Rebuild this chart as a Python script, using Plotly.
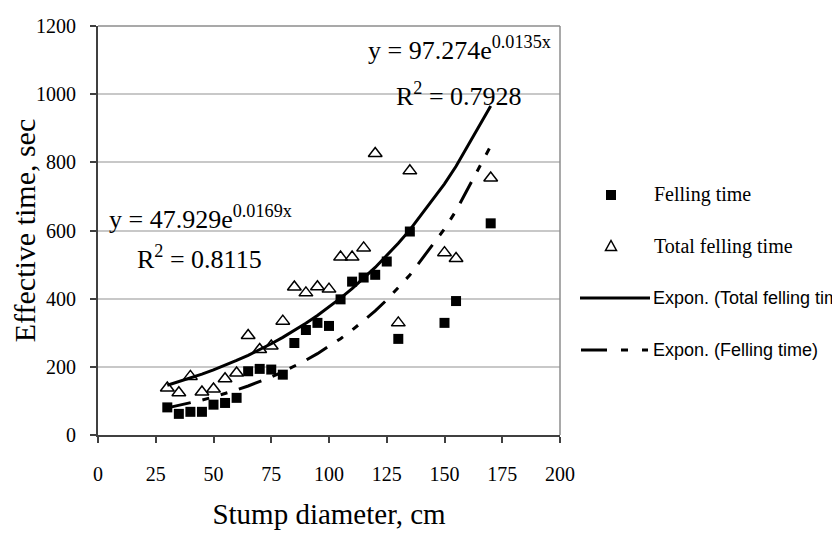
import numpy as np
import plotly.graph_objects as go

# ---- data ----
felling_x = [30, 35, 40, 45, 50, 55, 60, 65, 70, 75, 80, 85, 90, 95, 100, 105, 110, 115, 120, 125, 130, 135, 150, 155, 170]
felling_y = [81, 62, 68, 68, 89, 94, 109, 187, 194, 192, 177, 270, 308, 329, 320, 398, 450, 462, 470, 509, 282, 597, 329, 393, 621]

total_x = [30, 35, 40, 45, 50, 55, 60, 65, 70, 75, 80, 85, 90, 95, 100, 105, 110, 115, 120, 130, 135, 150, 155, 170]
total_y = [138, 124, 172, 126, 135, 165, 182, 292, 251, 261, 334, 434, 417, 435, 428, 522, 522, 549, 826, 329, 775, 535, 518, 754]

# exponential trend-line coefficients shown on the chart
total_a, total_b, total_r2 = 97.274, 0.0135, 0.7928
fell_a, fell_b, fell_r2 = 47.929, 0.0169, 0.8115

x_ticks = [0, 25, 50, 75, 100, 125, 150, 175, 200]
y_ticks = [0, 200, 400, 600, 800, 1000, 1200]

SERIF = "Liberation Serif, Times New Roman, serif"
SANS = "Liberation Sans, Arial, sans-serif"

W, H = 840, 535
L, R, T, B = 90, 552, 18, 427  # plot area in pixels


def px(xp):
    return (xp - L) / (R - L)


def py(yp):
    return (B - yp) / (B - T)


tx = np.array(sorted(set(total_x)), dtype=float)
fx = np.array(sorted(set(felling_x)), dtype=float)
total_trend = total_a * np.exp(total_b * tx)
fell_trend = fell_a * np.exp(fell_b * fx)

DASH = "24px,12px,7px,12px,7px,12px"

fig = go.Figure()
fig.add_trace(go.Scatter(x=tx, y=total_trend, mode="lines",
                         line=dict(color="black", width=3),
                         name="Expon. (Total felling time)", showlegend=False))
fig.add_trace(go.Scatter(x=fx, y=fell_trend, mode="lines",
                         line=dict(color="black", width=3, dash=DASH),
                         name="Expon. (Felling time)", showlegend=False))
fig.add_trace(go.Scatter(x=felling_x, y=felling_y, mode="markers",
                         marker=dict(symbol="square", size=10, color="black"),
                         name="Felling time", showlegend=False))
fig.add_trace(go.Scatter(x=total_x, y=total_y, mode="markers",
                         marker=dict(symbol="triangle-up-open", size=12, color="black",
                                     line=dict(width=1.5, color="black")),
                         name="Total felling time", showlegend=False))

shapes = []
# top and right plot border
shapes.append(dict(type="line", xref="paper", yref="paper", x0=0, x1=1, y0=1, y1=1,
                   line=dict(color="#8c8c8c", width=1.5)))
shapes.append(dict(type="line", xref="paper", yref="paper", x0=1, x1=1, y0=0, y1=1,
                   line=dict(color="#8c8c8c", width=1.5)))

# manual legend
leg_cx = 603
rows = [187, 238, 290, 342]
s = 5
shapes.append(dict(type="rect", xref="paper", yref="paper",
                   x0=px(leg_cx - s), x1=px(leg_cx + s), y0=py(rows[0] + s), y1=py(rows[0] - s),
                   fillcolor="black", line=dict(width=0)))
shapes.append(dict(type="path", xref="paper", yref="paper",
                   path="M {},{} L {},{} L {},{} Z".format(px(leg_cx - 5.5), py(rows[1] + 4.5),
                                                           px(leg_cx + 5.5), py(rows[1] + 4.5),
                                                           px(leg_cx), py(rows[1] - 5.5)),
                   line=dict(color="black", width=1.5)))
shapes.append(dict(type="line", xref="paper", yref="paper", x0=px(572), x1=px(642),
                   y0=py(rows[2]), y1=py(rows[2]), line=dict(color="black", width=3)))
shapes.append(dict(type="line", xref="paper", yref="paper", x0=px(573), x1=px(640),
                   y0=py(rows[3]), y1=py(rows[3]), line=dict(color="black", width=3, dash="26px,14px,7px,14px,7px,14px")))

annotations = []
leg_texts = [("Felling time", SERIF, 20, 644), ("Total felling time", SERIF, 20, 644),
             ("Expon. (Total felling time)", SANS, 18, 643), ("Expon. (Felling time)", SANS, 18, 643)]
for (txt, fam, size, xx), yy in zip(leg_texts, rows):
    annotations.append(dict(text=txt, xref="paper", yref="paper", x=px(xx), y=py(yy),
                            xanchor="left", yanchor="middle", showarrow=False,
                            font=dict(family=fam, size=size, color="black")))

# equation annotations
eq_font = dict(family=SERIF, size=26, color="black")
annotations.append(dict(text="y = %.3fe<sup>%.4fx</sup>" % (total_a, total_b), xref="paper", yref="paper",
                        x=px(451), y=py(41), xanchor="center", yanchor="middle",
                        showarrow=False, font=eq_font))
annotations.append(dict(text="R<sup>2</sup> = %.4f" % total_r2, xref="paper", yref="paper",
                        x=px(451), y=py(87), xanchor="center", yanchor="middle",
                        showarrow=False, font=eq_font))
annotations.append(dict(text="y = %.3fe<sup>%.4fx</sup>" % (fell_a, fell_b), xref="paper", yref="paper",
                        x=px(192), y=py(209), xanchor="center", yanchor="middle",
                        showarrow=False, font=eq_font))
annotations.append(dict(text="R<sup>2</sup> = %.4f" % fell_r2, xref="paper", yref="paper",
                        x=px(191), y=py(250), xanchor="center", yanchor="middle",
                        showarrow=False, font=eq_font))

fig.update_layout(
    width=W, height=H,
    margin=dict(l=L, r=W - R, t=T, b=H - B, autoexpand=False),
    paper_bgcolor="white", plot_bgcolor="white",
    showlegend=False,
    shapes=shapes, annotations=annotations,
    font=dict(family=SERIF, color="black"),
)
fig.update_xaxes(range=[0, 200], tickvals=x_ticks, ticktext=[str(v) for v in x_ticks],
                 showgrid=False, zeroline=False, showline=True, linecolor="#404040", linewidth=2,
                 ticks="outside", ticklen=6, tickwidth=1.5, tickcolor="#404040",
                 tickfont=dict(family=SERIF, size=20, color="black"), ticklabelstandoff=14,
                 title=dict(text="Stump diameter, cm", font=dict(family=SERIF, size=29, color="black"),
                            standoff=20))
fig.update_yaxes(range=[0, 1200], tickvals=y_ticks, ticktext=[str(v) for v in y_ticks],
                 showgrid=True, gridcolor="#c8c8c8", gridwidth=1.5, zeroline=False,
                 showline=True, linecolor="#404040", linewidth=2,
                 ticks="outside", ticklen=6, tickwidth=1.5, tickcolor="#404040",
                 tickfont=dict(family=SERIF, size=20, color="black"), ticklabelstandoff=10,
                 title=dict(text="Effective time, sec", font=dict(family=SERIF, size=30, color="black"),
                            standoff=7))

fig.write_html("out.html")
